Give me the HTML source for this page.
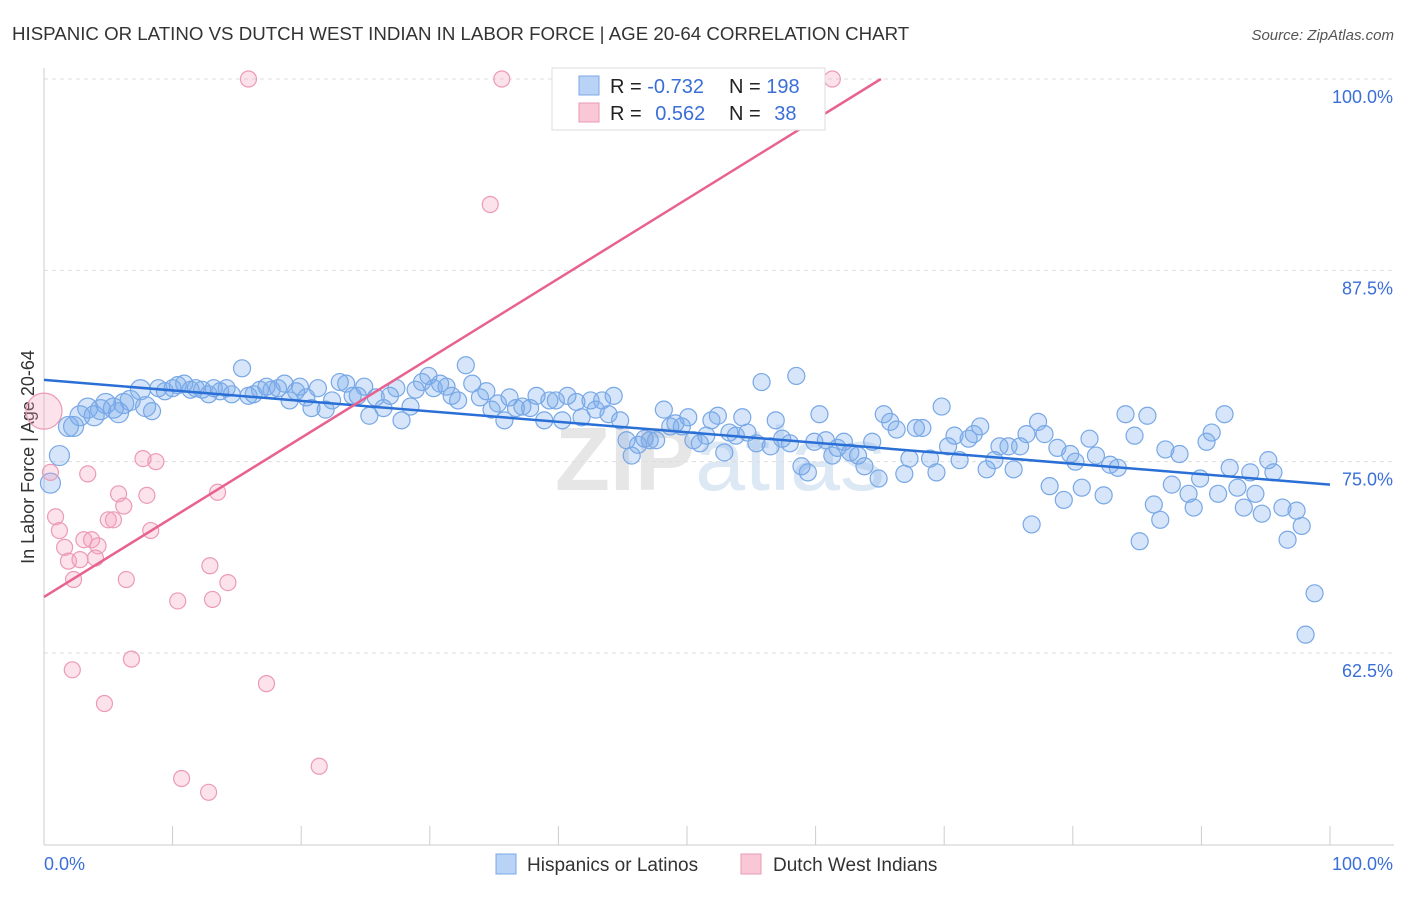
<!DOCTYPE html>
<html><head><meta charset="utf-8"><style>
body{margin:0;background:#fff;font-family:"Liberation Sans",sans-serif;}
svg text{font-family:"Liberation Sans",sans-serif;}
</style></head><body>
<svg id="chart" width="1406" height="892" xmlns="http://www.w3.org/2000/svg">
<text x="12" y="40" font-size="18.7" fill="#333">HISPANIC OR LATINO VS DUTCH WEST INDIAN IN LABOR FORCE | AGE 20-64 CORRELATION CHART</text>
<text x="1394" y="40" font-size="15" fill="#555" text-anchor="end" font-style="italic">Source: ZipAtlas.com</text>
<text x="720" y="490" font-size="90" fill="#e6e6e6" text-anchor="middle" font-weight="bold">ZIP<tspan fill="#dde8f5" font-weight="normal">atlas</tspan></text>
<text transform="translate(34,457) rotate(-90)" font-size="18" fill="#333" text-anchor="middle">In Labor Force | Age 20-64</text>
<g id="grid"></g><g id="axes"></g><g id="pts"></g><g id="lines"></g>
<g>
<rect x="552" y="68" width="273" height="62" fill="#fff" stroke="#ddd"/>
<rect x="579" y="76" width="20" height="19" fill="#b8d3f5" stroke="#7aaae6"/>
<rect x="579" y="103" width="20" height="19" fill="#f9c7d6" stroke="#eb98b3"/>
<text x="610" y="93" font-size="20" fill="#222">R = <tspan fill="#3a6fd8">-0.732</tspan></text>
<text x="729" y="93" font-size="20" fill="#222">N = <tspan fill="#3a6fd8">198</tspan></text>
<text x="610" y="120" font-size="20" fill="#222">R = <tspan fill="#3a6fd8" dx="8">0.562</tspan></text>
<text x="729" y="120" font-size="20" fill="#222">N = <tspan fill="#3a6fd8" dx="8">38</tspan></text>
</g>
<g>
<rect x="496" y="854" width="20" height="20" fill="#b8d3f5" stroke="#7aaae6"/>
<text x="527" y="871" font-size="19" fill="#333">Hispanics or Latinos</text>
<rect x="741" y="854" width="20" height="20" fill="#f9c7d6" stroke="#eb98b3"/>
<text x="773" y="871" font-size="19" fill="#333">Dutch West Indians</text>
</g>
</svg>
<script>
const blueX=[0.5,1.2,1.9,2.3,2.8,3.4,3.9,4.4,4.8,5.4,5.8,6.2,6.7,7.5,7.9,8.4,8.9,9.4,10.0,10.4,10.9,11.4,11.8,12.3,12.8,13.2,13.7,14.2,14.6,15.4,15.9,16.3,16.8,17.3,17.7,18.2,18.7,19.1,19.6,19.9,20.4,20.8,21.3,21.9,22.4,23.0,23.5,24.0,24.4,24.9,25.3,25.8,26.4,26.9,27.4,27.8,28.5,28.9,29.4,29.9,30.3,30.8,31.3,31.7,32.2,32.8,33.3,33.9,34.4,34.8,35.3,35.8,36.2,36.7,37.2,37.8,38.3,38.9,39.3,39.8,40.3,40.7,41.4,41.8,42.5,42.9,43.4,43.9,44.3,44.8,45.3,45.7,46.2,46.7,47.1,47.6,48.2,48.7,49.1,49.6,50.1,50.5,51.0,51.5,51.9,52.4,52.9,53.3,53.8,54.3,54.7,55.4,55.8,56.5,56.9,57.4,58.0,58.5,58.9,59.4,59.9,60.3,60.8,61.3,61.7,62.2,62.7,63.3,63.8,64.4,64.9,65.3,65.8,66.3,66.9,67.3,67.8,68.3,68.9,69.4,69.8,70.3,70.8,71.2,71.9,72.3,72.8,73.3,73.9,74.3,75.0,75.4,75.9,76.4,76.8,77.3,77.8,78.2,78.8,79.3,79.8,80.2,80.7,81.3,81.8,82.4,82.9,83.5,84.1,84.8,85.2,85.8,86.3,86.8,87.2,87.7,88.3,89.0,89.4,89.9,90.4,90.8,91.3,91.8,92.2,92.8,93.3,93.8,94.2,94.7,95.2,95.6,96.3,96.7,97.4,97.8,98.8,98.1];
const blueY=[73.6,75.4,77.3,77.3,78.0,78.5,78.0,78.4,78.8,78.5,78.2,78.8,79.0,79.7,78.6,78.3,79.8,79.6,79.8,80.0,80.1,79.7,79.8,79.7,79.4,79.8,79.6,79.8,79.4,81.1,79.3,79.4,79.7,79.9,79.7,79.8,80.1,79.0,79.6,79.9,79.2,78.5,79.8,78.4,79.0,80.2,80.1,79.3,79.3,79.9,78.0,79.2,78.5,79.3,79.8,77.7,78.6,79.7,80.2,80.6,79.8,80.1,79.9,79.3,79.0,81.3,80.1,79.2,79.6,78.4,78.8,77.7,79.2,78.5,78.6,78.5,79.3,77.7,79.0,79.0,77.7,79.3,78.9,77.9,79.0,78.4,79.0,78.1,79.3,77.7,76.4,75.4,76.1,76.5,76.4,76.4,78.4,77.3,77.5,77.3,77.9,76.4,76.2,76.7,77.7,78.0,75.6,76.9,76.7,77.9,76.9,76.2,80.2,76.0,77.7,76.5,76.2,80.6,74.7,74.3,76.3,78.1,76.4,75.4,75.9,76.3,75.6,75.4,74.7,76.3,73.9,78.1,77.6,77.1,74.2,75.2,77.2,77.2,75.2,74.3,78.6,76.0,76.7,75.1,76.5,76.8,77.3,74.5,75.1,76.0,76.0,74.5,76.0,76.8,70.9,77.6,76.8,73.4,75.9,72.5,75.5,75.0,73.3,76.5,75.4,72.8,74.8,74.6,78.1,76.7,69.8,78.0,72.2,71.2,75.8,73.5,75.5,72.9,72.0,73.9,76.3,76.9,72.9,78.1,74.6,73.3,72.0,74.3,72.9,71.6,75.1,74.3,72.0,69.9,71.8,70.8,66.4,63.7];
const pinkX=[0,0.5,0.9,1.2,1.6,1.9,2.3,2.2,2.8,3.1,3.4,3.7,4.0,4.2,4.7,5.0,5.4,5.8,6.2,6.4,6.8,7.7,8.0,8.3,8.7,10.4,10.7,12.8,12.9,13.1,13.5,14.3,15.9,17.3,21.4,34.7,35.6,61.3];
const pinkY=[78.3,74.3,71.4,70.5,69.4,68.5,67.3,61.4,68.6,69.9,74.2,69.9,68.7,69.5,59.2,71.2,71.2,72.9,72.1,67.3,62.1,75.2,72.8,70.5,75.0,65.9,54.3,53.4,68.2,66.0,73.0,67.1,100,60.5,55.1,91.8,100,100];
const blueFit=[80.34,-0.0684];
const pinkFit=[66.16,0.52];
const yTicks=[100,87.5,75,62.5];
const yTickLabels=["100.0%","87.5%","75.0%","62.5%"];
const xTicks=[0,10,20,30,40,50,60,70,80,90,100];

const X0=44,X1=1330,YT=79,YB=653;
const sx=v=>X0+(v/100)*(X1-X0);
const sy=v=>YT+(100-v)/37.5*(YB-YT);
const NS="http://www.w3.org/2000/svg";
function mk(p,t,a){const e=document.createElementNS(NS,t);for(const k in a)e.setAttribute(k,a[k]);p.appendChild(e);return e;}
const grid=document.getElementById('grid'),axes=document.getElementById('axes'),pts=document.getElementById('pts'),lines=document.getElementById('lines');
yTicks.forEach((t,i)=>{
 const g=mk(grid,'line',{x1:X0,x2:1394,y1:sy(t),y2:sy(t),stroke:'#ddd','stroke-dasharray':'4,4'});
 
 
 const l=mk(axes,'text',{x:1393,y:sy(t)+24,'font-size':18,fill:'#3a6fd8','text-anchor':'end'});
 l.textContent=yTickLabels[i];
 
 
});
const ya=mk(axes,'line',{x1:X0,x2:X0,y1:68,y2:845,stroke:'#ccc'});


const xa=mk(axes,'line',{x1:X0,x2:1394,y1:845,y2:845,stroke:'#ccc'});


xTicks.forEach(t=>{
 const k=mk(axes,'line',{x1:sx(t),x2:sx(t),y1:826,y2:845,stroke:'#ccc'});
 
 
});
const xl0=mk(axes,'text',{x:44,y:870,'font-size':18,fill:'#3a6fd8'});xl0.textContent='0.0%';


const xl1=mk(axes,'text',{x:1393,y:870,'font-size':18,fill:'#3a6fd8','text-anchor':'end'});xl1.textContent='100.0%';


blueX.forEach((x,i)=>{
 const c=mk(pts,'circle',{cx:sx(x),cy:sy(blueY[i]),r:x<8?10:8.5,fill:'rgba(120,170,235,0.3)',stroke:'#78a8e6','stroke-width':1.2});
 
 
});
pinkX.forEach((x,i)=>{
 const c=mk(pts,'circle',{cx:sx(x),cy:sy(pinkY[i]),r:i===0?18:8,fill:'rgba(245,160,190,0.3)',stroke:'#ec9ab5','stroke-width':1.2});
 
 
});
const bl=mk(lines,'line',{x1:sx(0),y1:sy(blueFit[0]),x2:sx(100),y2:sy(blueFit[0]+blueFit[1]*100),stroke:'#2a6fd6','stroke-width':2.5});


const pxEnd=Math.min(100,(100-pinkFit[0])/pinkFit[1]);
const pl=mk(lines,'line',{x1:sx(0),y1:sy(pinkFit[0]),x2:sx(pxEnd),y2:sy(pinkFit[0]+pinkFit[1]*pxEnd),stroke:'#e8628f','stroke-width':2.5});


</script>
</body></html>
